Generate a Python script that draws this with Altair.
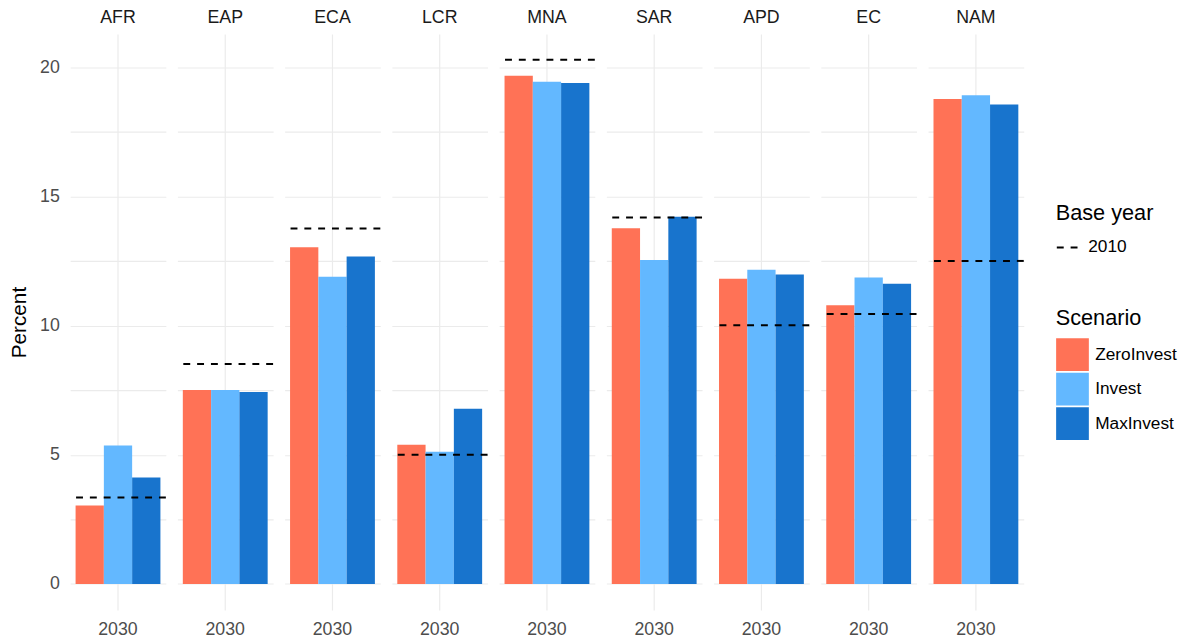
import altair as alt
import pandas as pd

regions = ["AFR", "EAP", "ECA", "LCR", "MNA", "SAR", "APD", "EC", "NAM"]
scenarios = ["ZeroInvest", "Invest", "MaxInvest"]
zero_invest = [3.04, 7.51, 13.04, 5.39, 19.68, 13.78, 11.82, 10.79, 18.78]
invest = [5.36, 7.51, 11.90, 5.12, 19.45, 12.55, 12.17, 11.87, 18.93]
max_invest = [4.12, 7.43, 12.68, 6.78, 19.40, 14.22, 11.98, 11.63, 18.57]
base_2010 = [3.35, 8.52, 13.77, 5.00, 20.30, 14.19, 10.02, 10.45, 12.51]
year_label = "2030"
base_label = "2010"
colors = ["#FF7256", "#63B8FF", "#1874CD"]
y_ticks = [0, 2.5, 5, 7.5, 10, 12.5, 15, 17.5, 20]

rows = []
for i, r in enumerate(regions):
    for s, vals in zip(scenarios, [zero_invest, invest, max_invest]):
        rows.append({"region": r, "scenario": s, "value": vals[i],
                     "base": base_2010[i], "year": year_label, "baselabel": base_label})
df = pd.DataFrame(rows)

FONT = "Liberation Sans"

bars = alt.Chart().mark_bar().encode(
    x=alt.X("year:N", title=None,
            scale=alt.Scale(paddingInner=0, paddingOuter=0.064),
            axis=alt.Axis(labelAngle=0, bandPosition=0.5, labelPadding=11, grid=True)),
    xOffset=alt.XOffset("scenario:N", sort=scenarios,
                        scale=alt.Scale(domain=scenarios, paddingInner=0, paddingOuter=0)),
    y=alt.Y("value:Q", title="Percent",
            scale=alt.Scale(domain=[-1.015, 21.3], nice=False, zero=False),
            axis=alt.Axis(values=y_ticks,
                          labelExpr="datum.value % 5 == 0 ? datum.label : ''",
                          labelPadding=10, titlePadding=10)),
    color=alt.Color("scenario:N", sort=scenarios,
                    scale=alt.Scale(domain=scenarios, range=colors),
                    legend=alt.Legend(title="Scenario", orient="none",
                                      legendX=1067 - 68, legendY=278,
                                      symbolType="square", symbolSize=1100,
                                      symbolStrokeWidth=0, rowPadding=1,
                                      titlePadding=8, labelOffset=6)),
)

rule = alt.Chart().mark_rule(color="black", strokeWidth=2).encode(
    y=alt.Y("base:Q", title="Percent"),
    strokeDash=alt.StrokeDash("baselabel:N",
                              scale=alt.Scale(domain=[base_label], range=[[7, 7]]),
                              legend=alt.Legend(title="Base year", orient="none",
                                                legendX=1067 - 68, legendY=172,
                                                symbolType="stroke", symbolSize=520,
                                                symbolStrokeColor="black",
                                                symbolStrokeWidth=2, titlePadding=10,
                                                labelOffset=8)),
).transform_filter(alt.datum.scenario == "ZeroInvest")

chart = alt.layer(bars, rule, data=df).properties(width=97, height=584).facet(
    column=alt.Column("region:N", sort=regions,
                      header=alt.Header(title=None, labelFontSize=18, labelColor="#1a1a1a",
                                        labelFont=FONT, labelPadding=7)),
    spacing=9.7,
).configure_view(stroke=None).configure_axis(
    domain=False, ticks=False, gridColor="#ebebeb", gridWidth=1.2,
    labelColor="#4d4d4d", labelFontSize=18, labelFont=FONT,
    titleFont=FONT, titleFontSize=21, titleColor="#000000", titleFontWeight="normal",
).configure_legend(
    titleFont=FONT, titleFontSize=22, titleFontWeight="normal", titleColor="#000000",
    labelFont=FONT, labelFontSize=17.5, labelColor="#000000",
).properties(padding={"left": 0, "top": -3, "right": 5, "bottom": 0})

chart.save("out.html", embed_options={"renderer": "svg", "actions": False})
